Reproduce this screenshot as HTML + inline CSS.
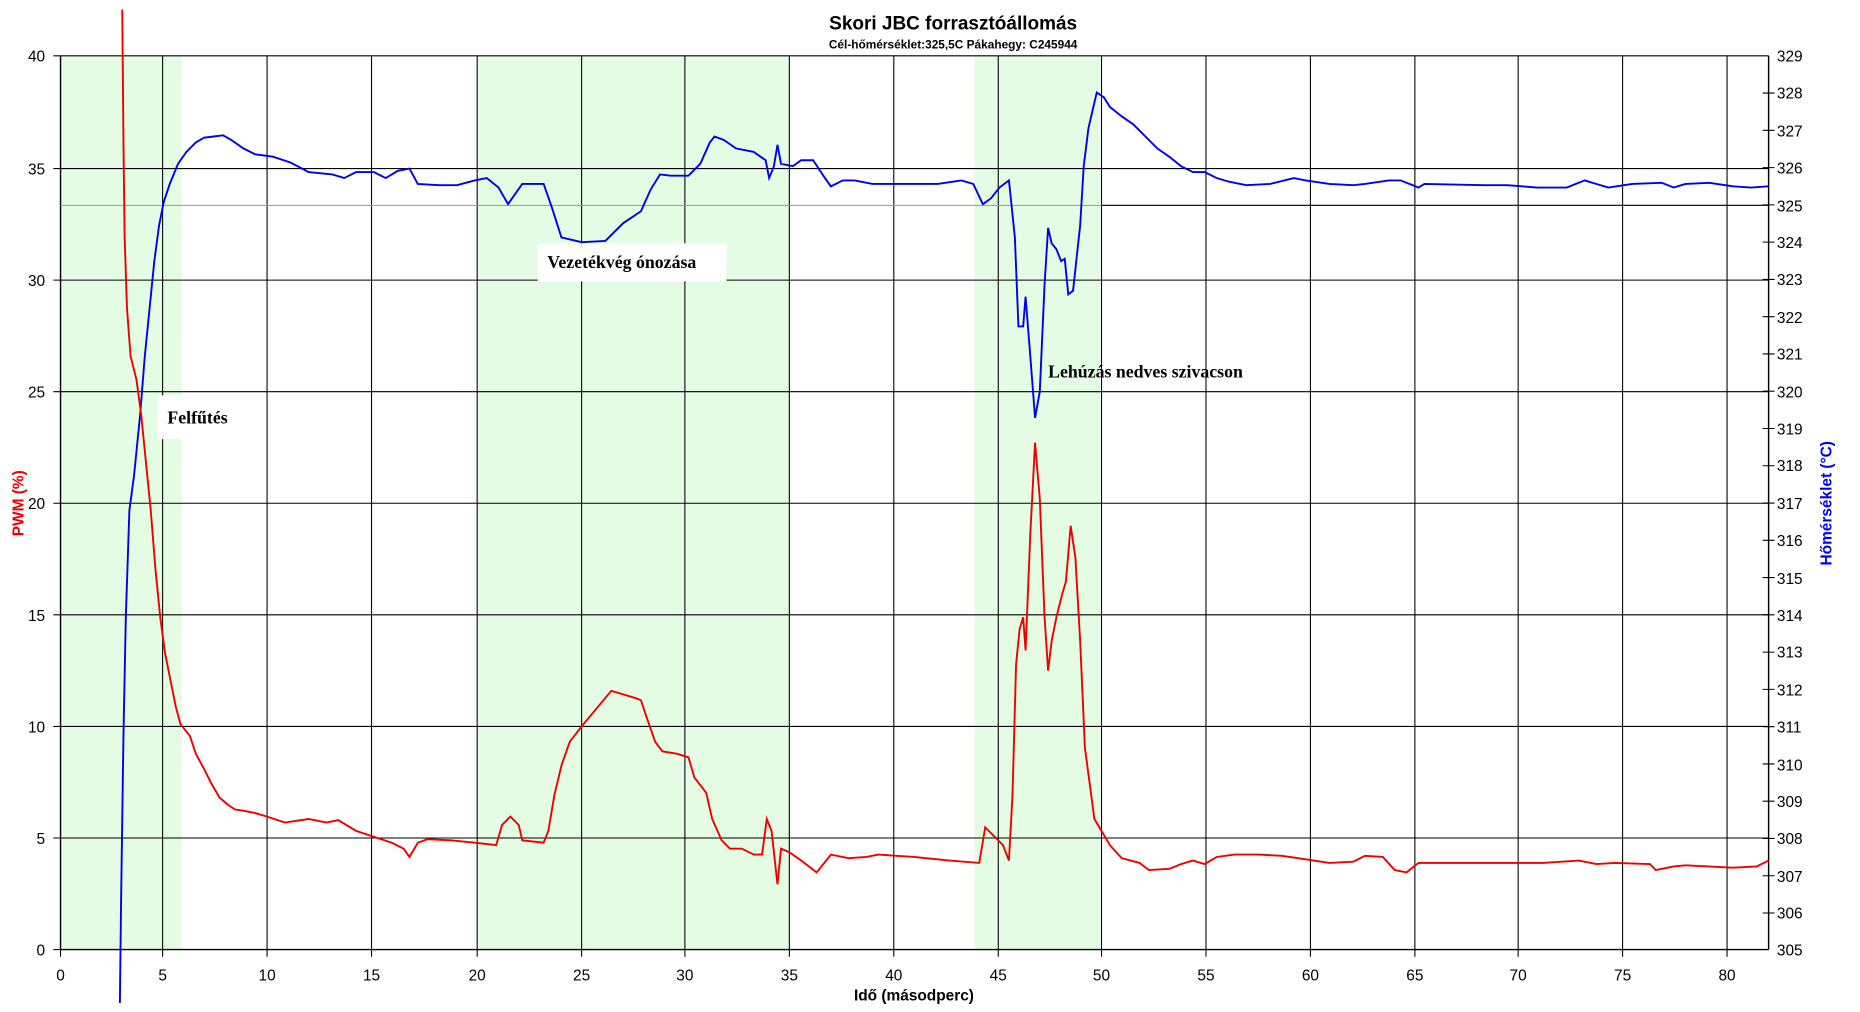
<!DOCTYPE html>
<html><head><meta charset="utf-8"><style>html,body{margin:0;padding:0;background:#fff}svg{display:block}</style></head><body>
<svg width="1860" height="1012" viewBox="0 0 1567 852.6" preserveAspectRatio="none" xmlns="http://www.w3.org/2000/svg" font-family="Liberation Sans, sans-serif">
<rect x="0" y="0" width="1567" height="853" fill="#fff"/>
<g fill="#e4fce4">
<rect x="51" y="47" width="102" height="753"/>
<rect x="402" y="47" width="263" height="753"/>
<rect x="821" y="47" width="106" height="753"/>
</g>
<g stroke="#000" stroke-width="0.9">
<path d="M51 47H1490M51 142H1490M51 236H1490M51 330H1490M51 424H1490M51 518H1490M51 612H1490M51 706H1490"/>
<path d="M137 47V800M225 47V800M313 47V800M402 47V800M490 47V800M577 47V800M665 47V800M753 47V800M841 47V800M928 47V800M1016 47V800M1104 47V800M1192 47V800M1279 47V800M1367 47V800M1455 47V800"/>
<path d="M928 173H1490"/>
<path d="M51 800H1490M51 47V800M1490 47V800" stroke-width="1.2"/>
<path d="M45 47H51M45 142H51M45 236H51M45 330H51M45 424H51M45 518H51M45 612H51M45 706H51M45 800H51"/>
<path d="M51 800V806M137 800V806M225 800V806M313 800V806M402 800V806M490 800V806M577 800V806M665 800V806M753 800V806M841 800V806M928 800V806M1016 800V806M1104 800V806M1192 800V806M1279 800V806M1367 800V806M1455 800V806"/>
<path d="M1485 78.4H1495M1485 109.8H1495M1485 141.2H1495M1485 172.6H1495M1485 204H1495M1485 235.4H1495M1485 266.8H1495M1485 298.2H1495M1485 329.6H1495M1485 361H1495M1485 392.4H1495M1485 423.8H1495M1485 455.2H1495M1485 486.6H1495M1485 518H1495M1485 549.4H1495M1485 580.8H1495M1485 612.2H1495M1485 643.6H1495M1485 675H1495M1485 706.4H1495M1485 737.8H1495M1485 769.2H1495"/>
</g>
<path d="M51 173H928" stroke="#999" stroke-width="0.8"/>
<g fill="#fff">
<rect x="133" y="333" width="20" height="37"/>
<rect x="453" y="205" width="159" height="32"/>
</g>
<g font-family="Liberation Serif, serif" font-weight="bold" font-size="15" fill="#000">
<text x="141" y="357">Felfűtés</text>
<text x="461" y="226">Vezetékvég ónozása</text>
<text x="883" y="318">Lehúzás nedves szivacson</text>
</g>
<polyline fill="none" stroke="#0000ee" stroke-width="1.6" points="101,845 102,760 104,620 106,520 109,430 113,400 118,350 122,300 126,260 130,220 134,190 138,170 143,155 150,138 157,128 165,120 172,116 180,115 188,114 195,118 205,125 215,130 230,132 245,137 260,145 280,147 290,150 300,145 315,145 325,150 335,144 345,142 352,155 370,156 385,156 400,152 410,150 420,158 428,172 435,162 440,155 458,155 465,175 473,200 490,204 510,203 525,188 540,178 548,160 556,147 565,148 580,148 590,138 598,120 602,115 610,118 620,125 635,128 645,135 648,150 652,140 655,122 658,138 668,140 675,135 685,135 695,150 700,157 710,152 720,152 735,155 760,155 790,155 810,152 820,155 828,172 835,167 842,158 850,152 855,200 858,275 862,275 864,250 868,300 872,352 876,330 880,240 883,192 886,205 890,210 894,220 897,218 900,248 904,245 910,190 913,140 917,108 920,95 924,78 930,82 935,90 945,98 955,105 965,115 975,125 985,132 995,140 1005,145 1015,145 1025,150 1035,153 1050,156 1070,155 1090,150 1100,152 1120,155 1140,156 1150,155 1170,152 1180,152 1195,158 1200,155 1250,156 1270,156 1295,158 1320,158 1335,152 1345,155 1355,158 1375,155 1400,154 1410,158 1420,155 1440,154 1460,157 1475,158 1490,157"/>
<polyline fill="none" stroke="#ee0000" stroke-width="1.6" points="103,8 104,120 105,200 107,260 110,300 115,320 119,350 123,390 127,430 131,480 135,520 139,550 143,570 148,595 152,610 160,620 165,635 172,648 178,660 185,672 192,678 198,682 205,683 215,685 225,688 240,693 260,690 275,693 285,691 300,700 315,705 330,710 340,715 345,722 352,710 360,707 380,708 400,710 418,712 423,695 430,688 437,695 440,708 458,710 462,700 467,670 473,645 480,625 490,612 500,600 510,588 515,582 525,585 535,588 540,590 545,605 552,625 558,633 570,635 580,638 585,655 595,668 600,690 608,708 615,715 625,715 635,720 642,720 646,690 650,700 655,745 658,715 665,718 675,725 688,735 700,720 715,723 730,722 740,720 770,722 800,725 825,727 830,697 838,705 845,712 850,725 853,670 856,560 859,530 862,520 864,548 868,450 872,373 876,420 880,520 883,565 886,540 890,520 895,500 898,490 902,443 906,470 910,540 914,630 918,660 922,690 928,700 935,712 945,723 960,727 968,733 985,732 995,728 1005,725 1015,728 1025,722 1040,720 1060,720 1080,721 1100,724 1120,727 1140,726 1150,721 1165,722 1175,733 1185,735 1195,727 1260,727 1300,727 1330,725 1345,728 1360,727 1390,728 1395,733 1410,730 1420,729 1460,731 1480,730 1490,725"/>
<g font-size="13" fill="#000" text-anchor="end">
<text x="38" y="52">40</text><text x="38" y="147">35</text><text x="38" y="241">30</text><text x="38" y="335">25</text><text x="38" y="429">20</text><text x="38" y="523">15</text><text x="38" y="617">10</text><text x="38" y="711">5</text><text x="38" y="805">0</text>
</g>
<g font-size="13" fill="#000">
<text x="1497" y="52">329</text><text x="1497" y="83">328</text><text x="1497" y="115">327</text><text x="1497" y="146">326</text><text x="1497" y="178">325</text><text x="1497" y="209">324</text><text x="1497" y="240">323</text><text x="1497" y="272">322</text><text x="1497" y="303">321</text><text x="1497" y="335">320</text><text x="1497" y="366">319</text><text x="1497" y="397">318</text><text x="1497" y="429">317</text><text x="1497" y="460">316</text><text x="1497" y="492">315</text><text x="1497" y="523">314</text><text x="1497" y="554">313</text><text x="1497" y="586">312</text><text x="1497" y="617">311</text><text x="1497" y="649">310</text><text x="1497" y="680">309</text><text x="1497" y="711">308</text><text x="1497" y="743">307</text><text x="1497" y="774">306</text><text x="1497" y="805">305</text>
</g>
<g font-size="13" fill="#000" text-anchor="middle">
<text x="51" y="826">0</text><text x="137" y="826">5</text><text x="225" y="826">10</text><text x="313" y="826">15</text><text x="402" y="826">20</text><text x="490" y="826">25</text><text x="577" y="826">30</text><text x="665" y="826">35</text><text x="753" y="826">40</text><text x="841" y="826">45</text><text x="928" y="826">50</text><text x="1016" y="826">55</text><text x="1104" y="826">60</text><text x="1192" y="826">65</text><text x="1279" y="826">70</text><text x="1367" y="826">75</text><text x="1455" y="826">80</text>
<text x="770" y="843" font-weight="bold">Idő (másodperc)</text>
<text x="803" y="25" font-weight="bold" font-size="16">Skori JBC forrasztóállomás</text>
<text x="803" y="41" font-weight="bold" font-size="10">Cél-hőmérséklet:325,5C Pákahegy: C245944</text>
<text transform="translate(20,424) rotate(-90)" font-weight="bold" fill="#ee0000">PWM (%)</text>
<text transform="translate(1543,424) rotate(-90)" font-weight="bold" fill="#0000ee">Hőmérséklet (°C)</text>
</g>
</svg>
</body></html>
